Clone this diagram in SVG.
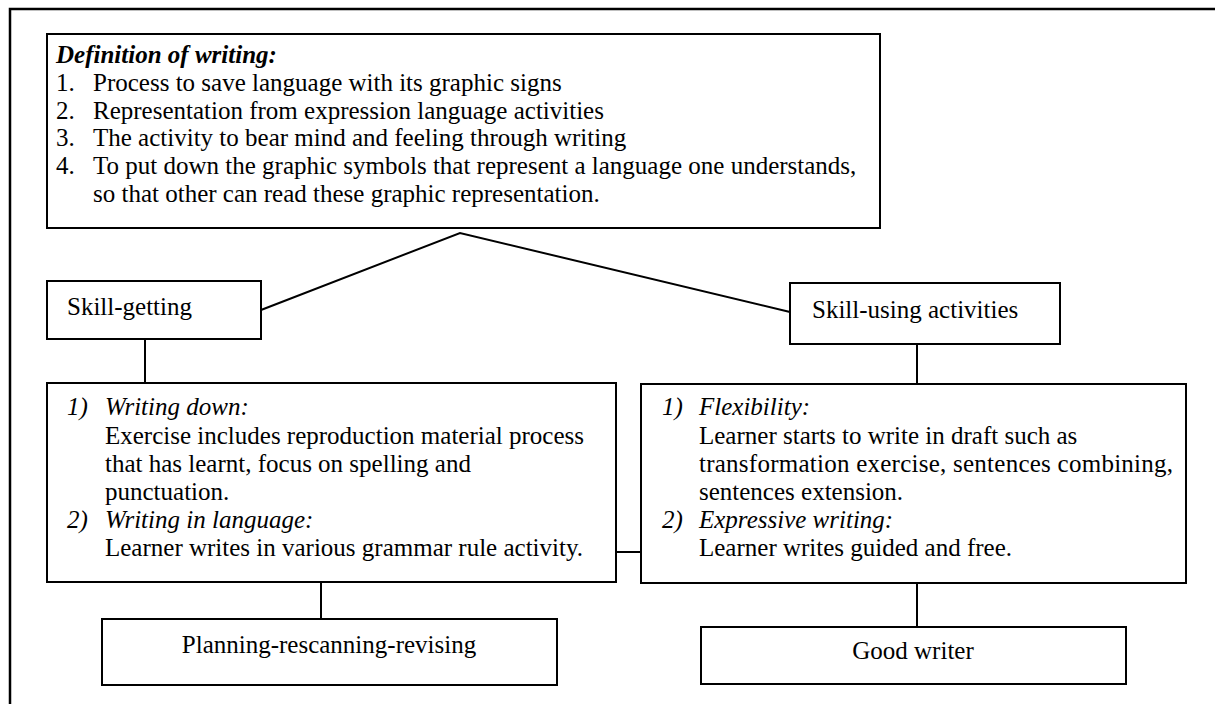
<svg xmlns="http://www.w3.org/2000/svg" width="1215" height="704" viewBox="0 0 1215 704">
<style>
  .box { fill: #fff; stroke: #000; stroke-width: 2; }
  .frame { fill: none; stroke: #000; stroke-width: 2.5; }
  .conn { fill: none; stroke: #000; stroke-width: 2; }
  .t { font-family: "Liberation Serif", "Times New Roman", serif; font-size: 25px; fill: #000; }
  .i { font-style: italic; }
  .bi { font-style: italic; font-weight: bold; }
  .c { text-anchor: middle; }
</style>
<rect width="1215" height="704" fill="#fff"/>
<g id="frame">
  <path class="frame" d="M10,720 V9 H1230"/>
</g>
<g id="connectors">
  <polyline class="conn" points="261,310 460,233 790,312"/>
  <line class="conn" x1="145" y1="339" x2="145" y2="383" stroke-width="2.5"/>
  <line class="conn" x1="917" y1="344" x2="917" y2="384" stroke-width="2.5"/>
  <line class="conn" x1="616" y1="552" x2="641" y2="552" stroke-width="3.5"/>
  <line class="conn" x1="321" y1="582" x2="321" y2="619" stroke-width="2.5"/>
  <line class="conn" x1="917" y1="583" x2="917" y2="627" stroke-width="2.5"/>
</g>
<g id="definition">
  <rect class="box" x="47" y="34" width="833" height="194" stroke-width="2.7"/>
  <text class="t bi" x="56" y="63">Definition of writing:</text>
  <text class="t" x="56" y="91">1.</text><text class="t" x="93" y="91">Process to save language with its graphic signs</text>
  <text class="t" x="56" y="118.5">2.</text><text class="t" x="93" y="118.5">Representation from expression language activities</text>
  <text class="t" x="56" y="146">3.</text><text class="t" x="93" y="146">The activity to bear mind and feeling through writing</text>
  <text class="t" x="56" y="174">4.</text><text class="t" x="93" y="174">To put down the graphic symbols that represent a language one understands,</text>
  <text class="t" x="93" y="201.5">so that other can read these graphic representation.</text>
</g>
<g id="skill-getting">
  <rect class="box" x="47" y="281" width="214" height="58"/>
  <text class="t" x="67" y="315">Skill-getting</text>
</g>
<g id="skill-using">
  <rect class="box" x="790" y="283" width="270" height="61"/>
  <text class="t" x="812" y="318">Skill-using activities</text>
</g>
<g id="skill-getting-detail">
  <rect class="box" x="47" y="383" width="569" height="199"/>
  <text class="t i" x="67" y="415">1)</text><text class="t i" x="105" y="415">Writing down:</text>
  <text class="t" x="105" y="444">Exercise includes reproduction material process</text>
  <text class="t" x="105" y="472">that has learnt, focus on spelling and</text>
  <text class="t" x="105" y="500">punctuation.</text>
  <text class="t i" x="67" y="528">2)</text><text class="t i" x="105" y="528">Writing in language:</text>
  <text class="t" x="105" y="556">Learner writes in various grammar rule activity.</text>
</g>
<g id="skill-using-detail">
  <rect class="box" x="641" y="384" width="545" height="199"/>
  <text class="t i" x="662" y="415">1)</text><text class="t i" x="699" y="415">Flexibility:</text>
  <text class="t" x="699" y="444">Learner starts to write in draft such as</text>
  <text class="t" x="699" y="472" textLength="474" lengthAdjust="spacing">transformation exercise, sentences combining,</text>
  <text class="t" x="699" y="500">sentences extension.</text>
  <text class="t i" x="662" y="528">2)</text><text class="t i" x="699" y="528">Expressive writing:</text>
  <text class="t" x="699" y="556">Learner writes guided and free.</text>
</g>
<g id="planning">
  <rect class="box" x="102" y="619" width="455" height="66"/>
  <text class="t c" x="329" y="653">Planning-rescanning-revising</text>
</g>
<g id="good-writer">
  <rect class="box" x="701" y="627" width="425" height="57"/>
  <text class="t c" x="913" y="659">Good writer</text>
</g>
</svg>
